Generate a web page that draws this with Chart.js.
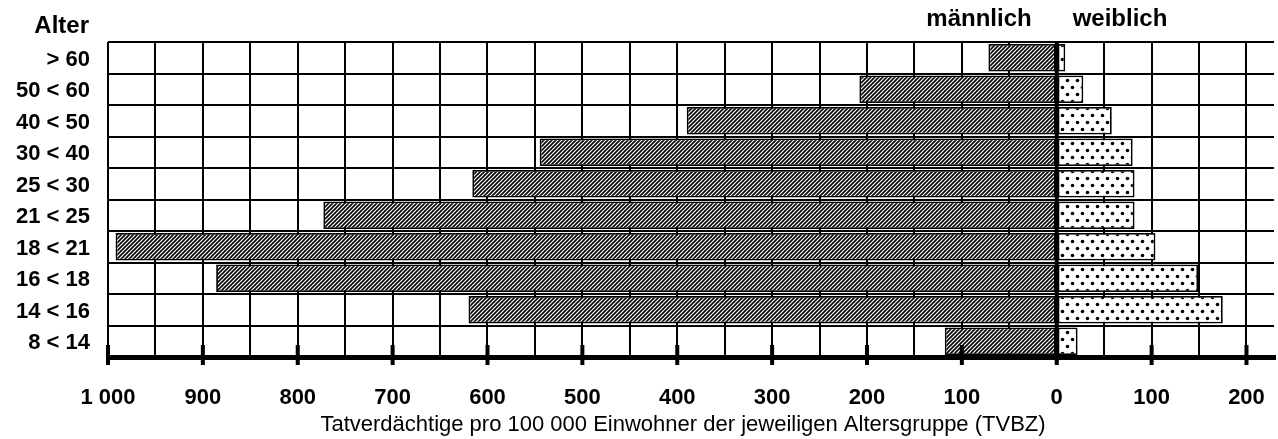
<!DOCTYPE html>
<html><head><meta charset="utf-8">
<script src="https://cdn.jsdelivr.net/npm/chart.js@4/dist/chart.umd.min.js"></script>
<style>html,body{margin:0;padding:0;background:#fff}#wrap{width:1278px;height:439px;position:relative}</style>
</head><body><div id="wrap"><canvas id="c" width="1278" height="439"></canvas></div>
<script>
// ---- data ----
const ageGroups = ['> 60','50 < 60','40 < 50','30 < 40','25 < 30','21 < 25','18 < 21','16 < 18','14 < 16','8 < 14'];
const maleValues = [72, 208, 390, 545, 616, 773, 992, 886, 620, 118];
const femaleValues = [9, 28, 58, 80, 82, 82, 104, 149, 175, 22];
const xTickValues = [-1000,-900,-800,-700,-600,-500,-400,-300,-200,-100,0,100,200];
const xTickLabels = ['1 000','900','800','700','600','500','400','300','200','100','0','100','200'];
const seriesNames = ['männlich','weiblich'];
const axisTitle = 'Tatverdächtige pro 100 000 Einwohner der jeweiligen Altersgruppe (TVBZ)';
const yAxisTitle = 'Alter';

const FONT = '"Liberation Sans", Arial, Helvetica, sans-serif';

function hatchPattern(){
  const c = document.createElement('canvas'); c.width = 4; c.height = 4;
  const g = c.getContext('2d');
  g.fillStyle = '#fff'; g.fillRect(0,0,4,4);
  g.strokeStyle = '#000'; g.lineWidth = 1.6; g.lineCap='square';
  g.beginPath();
  g.moveTo(-1,5); g.lineTo(5,-1);
  g.moveTo(-1,1); g.lineTo(1,-1);
  g.moveTo(3,5); g.lineTo(5,3);
  g.stroke();
  return g.createPattern(c,'repeat');
}
function dotPattern(){
  const c = document.createElement('canvas'); c.width = 10; c.height = 14;
  const g = c.getContext('2d');
  g.fillStyle = '#fff'; g.fillRect(0,0,10,14);
  g.fillStyle = '#000';
  g.beginPath(); g.arc(2.5,3.5,1.8,0,Math.PI*2); g.fill();
  g.beginPath(); g.arc(7.5,10.5,1.8,0,Math.PI*2); g.fill();
  return g.createPattern(c,'repeat');
}

const overlay = {
  id:'overlay',
  afterDatasetsDraw(chart){
    const ctx = chart.ctx, xs = chart.scales.x, a = chart.chartArea;
    ctx.save();
    const x0 = xs.getPixelForValue(0);
    ctx.fillStyle = '#000';
    ctx.fillRect(x0-2, a.top, 4, a.bottom - a.top + 4);
    ctx.fillRect(a.left, a.bottom-2, a.right - a.left + 2, 5);
    xTickValues.forEach(v => {
      const px = xs.getPixelForValue(v);
      ctx.fillRect(px-2, a.bottom-12, 4, 20);
    });
    ctx.fillStyle = '#000';
    ctx.textBaseline = 'alphabetic';
    ctx.font = 'bold 24px ' + FONT;
    ctx.textAlign = 'right';
    ctx.fillText(yAxisTitle, 89, 33);
    ctx.textAlign = 'center';
    ctx.fillText(seriesNames[0], 979, 26);
    ctx.fillText(seriesNames[1], 1120, 26);
    ctx.font = '22px ' + FONT;
    ctx.fillText(axisTitle, 683, 431);
    ctx.restore();
  }
};

new Chart(document.getElementById('c'), {
  type:'bar',
  data:{
    labels: ageGroups,
    datasets:[
      {label:seriesNames[0], data: maleValues.map(v=>-v), backgroundColor: hatchPattern(), borderColor:'#000', borderWidth:1.8, borderSkipped:false, barPercentage:0.88, categoryPercentage:1},
      {label:seriesNames[1], data: femaleValues, backgroundColor: dotPattern(), borderColor:'#000', borderWidth:1.8, borderSkipped:false, barPercentage:0.88, categoryPercentage:1}
    ]
  },
  options:{
    indexAxis:'y',
    responsive:false,
    animation:false,
    devicePixelRatio:1,
    layout:{autoPadding:false, padding:{top:42,right:4,left:0,bottom:0}},
    plugins:{legend:{display:false}, tooltip:{enabled:false}},
    scales:{
      x:{
        stacked:true,
        min:-1000, max:229,
        afterFit(s){ s.height = 82; s.paddingRight = 0; s.paddingLeft = 0; },
        border:{display:false},
        grid:{color:'#000', lineWidth:2, drawTicks:true, tickLength:28, tickColor:'rgba(0,0,0,0)'},
        ticks:{
          stepSize:50, includeBounds:false, autoSkip:false, maxRotation:0,
          padding:0,
          color:'#000',
          font:{family:FONT, size:22, weight:'bold'},
          callback(v){ const i = xTickValues.indexOf(v); return i>=0 ? xTickLabels[i] : ''; }
        }
      },
      y:{
        stacked:true,
        afterFit(s){ s.width = 108; },
        border:{display:false},
        grid:{color:'#000', lineWidth:2, drawTicks:false},
        ticks:{padding:18, labelOffset:2, color:'#000', font:{family:FONT, size:22, weight:'bold'}}
      }
    }
  },
  plugins:[overlay]
});
</script></body></html>
